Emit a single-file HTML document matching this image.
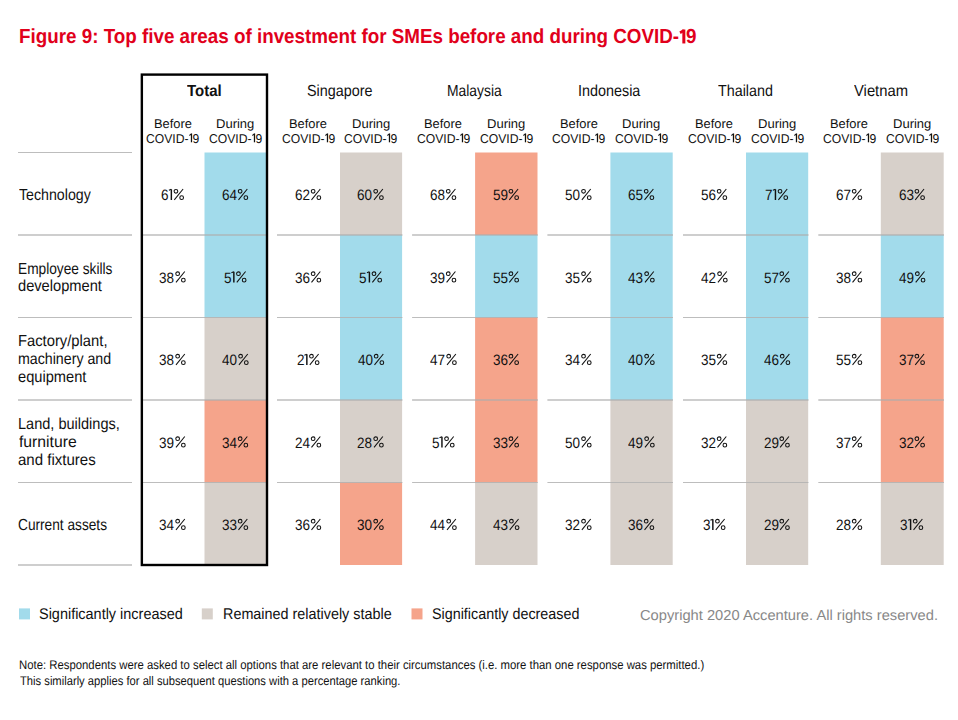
<!DOCTYPE html>
<html><head><meta charset="utf-8"><style>
html,body{margin:0;padding:0;background:#fff;}
body{width:958px;height:720px;position:relative;overflow:hidden;font-family:"Liberation Sans",sans-serif;text-rendering:geometricPrecision;}
.t{position:absolute;line-height:0;white-space:nowrap;transform-origin:0 0;}
svg.main{position:absolute;left:0;top:0;}
</style></head><body>
<svg class="main" width="958" height="720" viewBox="0 0 958 720" shape-rendering="geometricPrecision">
<rect x="204.50" y="152.50" width="62.00" height="82.50" fill="#a2dbeb"/>
<rect x="340.00" y="152.50" width="62.10" height="82.50" fill="#d7d0ca"/>
<rect x="475.10" y="152.50" width="62.40" height="82.50" fill="#f5a48b"/>
<rect x="610.40" y="152.50" width="62.30" height="82.50" fill="#a2dbeb"/>
<rect x="746.00" y="152.50" width="62.20" height="82.50" fill="#a2dbeb"/>
<rect x="880.80" y="152.50" width="62.90" height="82.50" fill="#d7d0ca"/>
<rect x="204.50" y="235.00" width="62.00" height="82.50" fill="#a2dbeb"/>
<rect x="340.00" y="235.00" width="62.10" height="82.50" fill="#a2dbeb"/>
<rect x="475.10" y="235.00" width="62.40" height="82.50" fill="#a2dbeb"/>
<rect x="610.40" y="235.00" width="62.30" height="82.50" fill="#a2dbeb"/>
<rect x="746.00" y="235.00" width="62.20" height="82.50" fill="#a2dbeb"/>
<rect x="880.80" y="235.00" width="62.90" height="82.50" fill="#a2dbeb"/>
<rect x="204.50" y="317.50" width="62.00" height="82.50" fill="#d7d0ca"/>
<rect x="340.00" y="317.50" width="62.10" height="82.50" fill="#a2dbeb"/>
<rect x="475.10" y="317.50" width="62.40" height="82.50" fill="#f5a48b"/>
<rect x="610.40" y="317.50" width="62.30" height="82.50" fill="#a2dbeb"/>
<rect x="746.00" y="317.50" width="62.20" height="82.50" fill="#a2dbeb"/>
<rect x="880.80" y="317.50" width="62.90" height="82.50" fill="#f5a48b"/>
<rect x="204.50" y="400.00" width="62.00" height="82.50" fill="#f5a48b"/>
<rect x="340.00" y="400.00" width="62.10" height="82.50" fill="#d7d0ca"/>
<rect x="475.10" y="400.00" width="62.40" height="82.50" fill="#f5a48b"/>
<rect x="610.40" y="400.00" width="62.30" height="82.50" fill="#d7d0ca"/>
<rect x="746.00" y="400.00" width="62.20" height="82.50" fill="#d7d0ca"/>
<rect x="880.80" y="400.00" width="62.90" height="82.50" fill="#f5a48b"/>
<rect x="204.50" y="482.50" width="62.00" height="82.50" fill="#d7d0ca"/>
<rect x="340.00" y="482.50" width="62.10" height="82.50" fill="#f5a48b"/>
<rect x="475.10" y="482.50" width="62.40" height="82.50" fill="#d7d0ca"/>
<rect x="610.40" y="482.50" width="62.30" height="82.50" fill="#d7d0ca"/>
<rect x="746.00" y="482.50" width="62.20" height="82.50" fill="#d7d0ca"/>
<rect x="880.80" y="482.50" width="62.90" height="82.50" fill="#d7d0ca"/>
<rect x="18.00" y="152" width="114.00" height="1" fill="#adadad" fill-opacity="0.8"/>
<rect x="18.00" y="234" width="114.00" height="2" fill="#adadad" fill-opacity="0.6"/>
<rect x="143.00" y="234" width="123.50" height="2" fill="#adadad" fill-opacity="0.6"/>
<rect x="277.00" y="234" width="125.40" height="2" fill="#adadad" fill-opacity="0.6"/>
<rect x="412.10" y="234" width="125.70" height="2" fill="#adadad" fill-opacity="0.6"/>
<rect x="547.40" y="234" width="125.60" height="2" fill="#adadad" fill-opacity="0.6"/>
<rect x="683.00" y="234" width="125.50" height="2" fill="#adadad" fill-opacity="0.6"/>
<rect x="818.30" y="234" width="125.70" height="2" fill="#adadad" fill-opacity="0.6"/>
<rect x="18.00" y="317" width="114.00" height="1" fill="#adadad" fill-opacity="0.8"/>
<rect x="143.00" y="317" width="123.50" height="1" fill="#adadad" fill-opacity="0.8"/>
<rect x="277.00" y="317" width="125.40" height="1" fill="#adadad" fill-opacity="0.8"/>
<rect x="412.10" y="317" width="125.70" height="1" fill="#adadad" fill-opacity="0.8"/>
<rect x="547.40" y="317" width="125.60" height="1" fill="#adadad" fill-opacity="0.8"/>
<rect x="683.00" y="317" width="125.50" height="1" fill="#adadad" fill-opacity="0.8"/>
<rect x="818.30" y="317" width="125.70" height="1" fill="#adadad" fill-opacity="0.8"/>
<rect x="18.00" y="399" width="114.00" height="2" fill="#adadad" fill-opacity="0.6"/>
<rect x="143.00" y="399" width="123.50" height="2" fill="#adadad" fill-opacity="0.6"/>
<rect x="277.00" y="399" width="125.40" height="2" fill="#adadad" fill-opacity="0.6"/>
<rect x="412.10" y="399" width="125.70" height="2" fill="#adadad" fill-opacity="0.6"/>
<rect x="547.40" y="399" width="125.60" height="2" fill="#adadad" fill-opacity="0.6"/>
<rect x="683.00" y="399" width="125.50" height="2" fill="#adadad" fill-opacity="0.6"/>
<rect x="818.30" y="399" width="125.70" height="2" fill="#adadad" fill-opacity="0.6"/>
<rect x="18.00" y="482" width="114.00" height="1" fill="#adadad" fill-opacity="0.8"/>
<rect x="143.00" y="482" width="123.50" height="1" fill="#adadad" fill-opacity="0.8"/>
<rect x="277.00" y="482" width="125.40" height="1" fill="#adadad" fill-opacity="0.8"/>
<rect x="412.10" y="482" width="125.70" height="1" fill="#adadad" fill-opacity="0.8"/>
<rect x="547.40" y="482" width="125.60" height="1" fill="#adadad" fill-opacity="0.8"/>
<rect x="683.00" y="482" width="125.50" height="1" fill="#adadad" fill-opacity="0.8"/>
<rect x="818.30" y="482" width="125.70" height="1" fill="#adadad" fill-opacity="0.8"/>
<rect x="18.00" y="564" width="114.00" height="2" fill="#adadad" fill-opacity="0.6"/>
<g transform="translate(173.40,188.80)" fill="none" stroke="#111" stroke-width="1.05"><circle cx="2.55" cy="2.45" r="1.85"/><circle cx="8.25" cy="8.85" r="1.85"/><path d="M9.7 0.2 L0.9 11.1"/></g>
<g transform="translate(237.60,188.80)" fill="none" stroke="#111" stroke-width="1.05"><circle cx="2.55" cy="2.45" r="1.85"/><circle cx="8.25" cy="8.85" r="1.85"/><path d="M9.7 0.2 L0.9 11.1"/></g>
<g transform="translate(310.60,188.80)" fill="none" stroke="#111" stroke-width="1.05"><circle cx="2.55" cy="2.45" r="1.85"/><circle cx="8.25" cy="8.85" r="1.85"/><path d="M9.7 0.2 L0.9 11.1"/></g>
<g transform="translate(373.15,188.80)" fill="none" stroke="#111" stroke-width="1.05"><circle cx="2.55" cy="2.45" r="1.85"/><circle cx="8.25" cy="8.85" r="1.85"/><path d="M9.7 0.2 L0.9 11.1"/></g>
<g transform="translate(445.70,188.80)" fill="none" stroke="#111" stroke-width="1.05"><circle cx="2.55" cy="2.45" r="1.85"/><circle cx="8.25" cy="8.85" r="1.85"/><path d="M9.7 0.2 L0.9 11.1"/></g>
<g transform="translate(508.40,188.80)" fill="none" stroke="#111" stroke-width="1.05"><circle cx="2.55" cy="2.45" r="1.85"/><circle cx="8.25" cy="8.85" r="1.85"/><path d="M9.7 0.2 L0.9 11.1"/></g>
<g transform="translate(581.00,188.80)" fill="none" stroke="#111" stroke-width="1.05"><circle cx="2.55" cy="2.45" r="1.85"/><circle cx="8.25" cy="8.85" r="1.85"/><path d="M9.7 0.2 L0.9 11.1"/></g>
<g transform="translate(643.65,188.80)" fill="none" stroke="#111" stroke-width="1.05"><circle cx="2.55" cy="2.45" r="1.85"/><circle cx="8.25" cy="8.85" r="1.85"/><path d="M9.7 0.2 L0.9 11.1"/></g>
<g transform="translate(716.60,188.80)" fill="none" stroke="#111" stroke-width="1.05"><circle cx="2.55" cy="2.45" r="1.85"/><circle cx="8.25" cy="8.85" r="1.85"/><path d="M9.7 0.2 L0.9 11.1"/></g>
<g transform="translate(777.50,188.80)" fill="none" stroke="#111" stroke-width="1.05"><circle cx="2.55" cy="2.45" r="1.85"/><circle cx="8.25" cy="8.85" r="1.85"/><path d="M9.7 0.2 L0.9 11.1"/></g>
<g transform="translate(851.65,188.80)" fill="none" stroke="#111" stroke-width="1.05"><circle cx="2.55" cy="2.45" r="1.85"/><circle cx="8.25" cy="8.85" r="1.85"/><path d="M9.7 0.2 L0.9 11.1"/></g>
<g transform="translate(914.35,188.80)" fill="none" stroke="#111" stroke-width="1.05"><circle cx="2.55" cy="2.45" r="1.85"/><circle cx="8.25" cy="8.85" r="1.85"/><path d="M9.7 0.2 L0.9 11.1"/></g>
<g transform="translate(175.10,271.30)" fill="none" stroke="#111" stroke-width="1.05"><circle cx="2.55" cy="2.45" r="1.85"/><circle cx="8.25" cy="8.85" r="1.85"/><path d="M9.7 0.2 L0.9 11.1"/></g>
<g transform="translate(235.90,271.30)" fill="none" stroke="#111" stroke-width="1.05"><circle cx="2.55" cy="2.45" r="1.85"/><circle cx="8.25" cy="8.85" r="1.85"/><path d="M9.7 0.2 L0.9 11.1"/></g>
<g transform="translate(310.60,271.30)" fill="none" stroke="#111" stroke-width="1.05"><circle cx="2.55" cy="2.45" r="1.85"/><circle cx="8.25" cy="8.85" r="1.85"/><path d="M9.7 0.2 L0.9 11.1"/></g>
<g transform="translate(371.45,271.30)" fill="none" stroke="#111" stroke-width="1.05"><circle cx="2.55" cy="2.45" r="1.85"/><circle cx="8.25" cy="8.85" r="1.85"/><path d="M9.7 0.2 L0.9 11.1"/></g>
<g transform="translate(445.70,271.30)" fill="none" stroke="#111" stroke-width="1.05"><circle cx="2.55" cy="2.45" r="1.85"/><circle cx="8.25" cy="8.85" r="1.85"/><path d="M9.7 0.2 L0.9 11.1"/></g>
<g transform="translate(508.40,271.30)" fill="none" stroke="#111" stroke-width="1.05"><circle cx="2.55" cy="2.45" r="1.85"/><circle cx="8.25" cy="8.85" r="1.85"/><path d="M9.7 0.2 L0.9 11.1"/></g>
<g transform="translate(581.00,271.30)" fill="none" stroke="#111" stroke-width="1.05"><circle cx="2.55" cy="2.45" r="1.85"/><circle cx="8.25" cy="8.85" r="1.85"/><path d="M9.7 0.2 L0.9 11.1"/></g>
<g transform="translate(644.10,271.30)" fill="none" stroke="#111" stroke-width="1.05"><circle cx="2.55" cy="2.45" r="1.85"/><circle cx="8.25" cy="8.85" r="1.85"/><path d="M9.7 0.2 L0.9 11.1"/></g>
<g transform="translate(717.05,271.30)" fill="none" stroke="#111" stroke-width="1.05"><circle cx="2.55" cy="2.45" r="1.85"/><circle cx="8.25" cy="8.85" r="1.85"/><path d="M9.7 0.2 L0.9 11.1"/></g>
<g transform="translate(779.20,271.30)" fill="none" stroke="#111" stroke-width="1.05"><circle cx="2.55" cy="2.45" r="1.85"/><circle cx="8.25" cy="8.85" r="1.85"/><path d="M9.7 0.2 L0.9 11.1"/></g>
<g transform="translate(851.65,271.30)" fill="none" stroke="#111" stroke-width="1.05"><circle cx="2.55" cy="2.45" r="1.85"/><circle cx="8.25" cy="8.85" r="1.85"/><path d="M9.7 0.2 L0.9 11.1"/></g>
<g transform="translate(914.80,271.30)" fill="none" stroke="#111" stroke-width="1.05"><circle cx="2.55" cy="2.45" r="1.85"/><circle cx="8.25" cy="8.85" r="1.85"/><path d="M9.7 0.2 L0.9 11.1"/></g>
<g transform="translate(175.10,353.80)" fill="none" stroke="#111" stroke-width="1.05"><circle cx="2.55" cy="2.45" r="1.85"/><circle cx="8.25" cy="8.85" r="1.85"/><path d="M9.7 0.2 L0.9 11.1"/></g>
<g transform="translate(238.05,353.80)" fill="none" stroke="#111" stroke-width="1.05"><circle cx="2.55" cy="2.45" r="1.85"/><circle cx="8.25" cy="8.85" r="1.85"/><path d="M9.7 0.2 L0.9 11.1"/></g>
<g transform="translate(308.90,353.80)" fill="none" stroke="#111" stroke-width="1.05"><circle cx="2.55" cy="2.45" r="1.85"/><circle cx="8.25" cy="8.85" r="1.85"/><path d="M9.7 0.2 L0.9 11.1"/></g>
<g transform="translate(373.60,353.80)" fill="none" stroke="#111" stroke-width="1.05"><circle cx="2.55" cy="2.45" r="1.85"/><circle cx="8.25" cy="8.85" r="1.85"/><path d="M9.7 0.2 L0.9 11.1"/></g>
<g transform="translate(446.15,353.80)" fill="none" stroke="#111" stroke-width="1.05"><circle cx="2.55" cy="2.45" r="1.85"/><circle cx="8.25" cy="8.85" r="1.85"/><path d="M9.7 0.2 L0.9 11.1"/></g>
<g transform="translate(508.40,353.80)" fill="none" stroke="#111" stroke-width="1.05"><circle cx="2.55" cy="2.45" r="1.85"/><circle cx="8.25" cy="8.85" r="1.85"/><path d="M9.7 0.2 L0.9 11.1"/></g>
<g transform="translate(581.00,353.80)" fill="none" stroke="#111" stroke-width="1.05"><circle cx="2.55" cy="2.45" r="1.85"/><circle cx="8.25" cy="8.85" r="1.85"/><path d="M9.7 0.2 L0.9 11.1"/></g>
<g transform="translate(644.10,353.80)" fill="none" stroke="#111" stroke-width="1.05"><circle cx="2.55" cy="2.45" r="1.85"/><circle cx="8.25" cy="8.85" r="1.85"/><path d="M9.7 0.2 L0.9 11.1"/></g>
<g transform="translate(716.60,353.80)" fill="none" stroke="#111" stroke-width="1.05"><circle cx="2.55" cy="2.45" r="1.85"/><circle cx="8.25" cy="8.85" r="1.85"/><path d="M9.7 0.2 L0.9 11.1"/></g>
<g transform="translate(779.65,353.80)" fill="none" stroke="#111" stroke-width="1.05"><circle cx="2.55" cy="2.45" r="1.85"/><circle cx="8.25" cy="8.85" r="1.85"/><path d="M9.7 0.2 L0.9 11.1"/></g>
<g transform="translate(851.65,353.80)" fill="none" stroke="#111" stroke-width="1.05"><circle cx="2.55" cy="2.45" r="1.85"/><circle cx="8.25" cy="8.85" r="1.85"/><path d="M9.7 0.2 L0.9 11.1"/></g>
<g transform="translate(914.35,353.80)" fill="none" stroke="#111" stroke-width="1.05"><circle cx="2.55" cy="2.45" r="1.85"/><circle cx="8.25" cy="8.85" r="1.85"/><path d="M9.7 0.2 L0.9 11.1"/></g>
<g transform="translate(175.10,436.30)" fill="none" stroke="#111" stroke-width="1.05"><circle cx="2.55" cy="2.45" r="1.85"/><circle cx="8.25" cy="8.85" r="1.85"/><path d="M9.7 0.2 L0.9 11.1"/></g>
<g transform="translate(237.60,436.30)" fill="none" stroke="#111" stroke-width="1.05"><circle cx="2.55" cy="2.45" r="1.85"/><circle cx="8.25" cy="8.85" r="1.85"/><path d="M9.7 0.2 L0.9 11.1"/></g>
<g transform="translate(310.60,436.30)" fill="none" stroke="#111" stroke-width="1.05"><circle cx="2.55" cy="2.45" r="1.85"/><circle cx="8.25" cy="8.85" r="1.85"/><path d="M9.7 0.2 L0.9 11.1"/></g>
<g transform="translate(373.15,436.30)" fill="none" stroke="#111" stroke-width="1.05"><circle cx="2.55" cy="2.45" r="1.85"/><circle cx="8.25" cy="8.85" r="1.85"/><path d="M9.7 0.2 L0.9 11.1"/></g>
<g transform="translate(444.00,436.30)" fill="none" stroke="#111" stroke-width="1.05"><circle cx="2.55" cy="2.45" r="1.85"/><circle cx="8.25" cy="8.85" r="1.85"/><path d="M9.7 0.2 L0.9 11.1"/></g>
<g transform="translate(508.40,436.30)" fill="none" stroke="#111" stroke-width="1.05"><circle cx="2.55" cy="2.45" r="1.85"/><circle cx="8.25" cy="8.85" r="1.85"/><path d="M9.7 0.2 L0.9 11.1"/></g>
<g transform="translate(581.00,436.30)" fill="none" stroke="#111" stroke-width="1.05"><circle cx="2.55" cy="2.45" r="1.85"/><circle cx="8.25" cy="8.85" r="1.85"/><path d="M9.7 0.2 L0.9 11.1"/></g>
<g transform="translate(644.10,436.30)" fill="none" stroke="#111" stroke-width="1.05"><circle cx="2.55" cy="2.45" r="1.85"/><circle cx="8.25" cy="8.85" r="1.85"/><path d="M9.7 0.2 L0.9 11.1"/></g>
<g transform="translate(716.60,436.30)" fill="none" stroke="#111" stroke-width="1.05"><circle cx="2.55" cy="2.45" r="1.85"/><circle cx="8.25" cy="8.85" r="1.85"/><path d="M9.7 0.2 L0.9 11.1"/></g>
<g transform="translate(779.20,436.30)" fill="none" stroke="#111" stroke-width="1.05"><circle cx="2.55" cy="2.45" r="1.85"/><circle cx="8.25" cy="8.85" r="1.85"/><path d="M9.7 0.2 L0.9 11.1"/></g>
<g transform="translate(851.65,436.30)" fill="none" stroke="#111" stroke-width="1.05"><circle cx="2.55" cy="2.45" r="1.85"/><circle cx="8.25" cy="8.85" r="1.85"/><path d="M9.7 0.2 L0.9 11.1"/></g>
<g transform="translate(914.35,436.30)" fill="none" stroke="#111" stroke-width="1.05"><circle cx="2.55" cy="2.45" r="1.85"/><circle cx="8.25" cy="8.85" r="1.85"/><path d="M9.7 0.2 L0.9 11.1"/></g>
<g transform="translate(175.10,518.80)" fill="none" stroke="#111" stroke-width="1.05"><circle cx="2.55" cy="2.45" r="1.85"/><circle cx="8.25" cy="8.85" r="1.85"/><path d="M9.7 0.2 L0.9 11.1"/></g>
<g transform="translate(237.60,518.80)" fill="none" stroke="#111" stroke-width="1.05"><circle cx="2.55" cy="2.45" r="1.85"/><circle cx="8.25" cy="8.85" r="1.85"/><path d="M9.7 0.2 L0.9 11.1"/></g>
<g transform="translate(310.60,518.80)" fill="none" stroke="#111" stroke-width="1.05"><circle cx="2.55" cy="2.45" r="1.85"/><circle cx="8.25" cy="8.85" r="1.85"/><path d="M9.7 0.2 L0.9 11.1"/></g>
<g transform="translate(373.15,518.80)" fill="none" stroke="#111" stroke-width="1.05"><circle cx="2.55" cy="2.45" r="1.85"/><circle cx="8.25" cy="8.85" r="1.85"/><path d="M9.7 0.2 L0.9 11.1"/></g>
<g transform="translate(446.15,518.80)" fill="none" stroke="#111" stroke-width="1.05"><circle cx="2.55" cy="2.45" r="1.85"/><circle cx="8.25" cy="8.85" r="1.85"/><path d="M9.7 0.2 L0.9 11.1"/></g>
<g transform="translate(508.85,518.80)" fill="none" stroke="#111" stroke-width="1.05"><circle cx="2.55" cy="2.45" r="1.85"/><circle cx="8.25" cy="8.85" r="1.85"/><path d="M9.7 0.2 L0.9 11.1"/></g>
<g transform="translate(581.00,518.80)" fill="none" stroke="#111" stroke-width="1.05"><circle cx="2.55" cy="2.45" r="1.85"/><circle cx="8.25" cy="8.85" r="1.85"/><path d="M9.7 0.2 L0.9 11.1"/></g>
<g transform="translate(643.65,518.80)" fill="none" stroke="#111" stroke-width="1.05"><circle cx="2.55" cy="2.45" r="1.85"/><circle cx="8.25" cy="8.85" r="1.85"/><path d="M9.7 0.2 L0.9 11.1"/></g>
<g transform="translate(714.90,518.80)" fill="none" stroke="#111" stroke-width="1.05"><circle cx="2.55" cy="2.45" r="1.85"/><circle cx="8.25" cy="8.85" r="1.85"/><path d="M9.7 0.2 L0.9 11.1"/></g>
<g transform="translate(779.20,518.80)" fill="none" stroke="#111" stroke-width="1.05"><circle cx="2.55" cy="2.45" r="1.85"/><circle cx="8.25" cy="8.85" r="1.85"/><path d="M9.7 0.2 L0.9 11.1"/></g>
<g transform="translate(851.65,518.80)" fill="none" stroke="#111" stroke-width="1.05"><circle cx="2.55" cy="2.45" r="1.85"/><circle cx="8.25" cy="8.85" r="1.85"/><path d="M9.7 0.2 L0.9 11.1"/></g>
<g transform="translate(912.65,518.80)" fill="none" stroke="#111" stroke-width="1.05"><circle cx="2.55" cy="2.45" r="1.85"/><circle cx="8.25" cy="8.85" r="1.85"/><path d="M9.7 0.2 L0.9 11.1"/></g>
<g transform="translate(168.80,189.00)" fill="none" stroke="#111" stroke-width="1.45"><path d="M2.55 0.3 V11" /><path d="M0.1 1.3 L2.5 0.25" stroke-width="1.1"/></g>
<g transform="translate(772.90,189.00)" fill="none" stroke="#111" stroke-width="1.45"><path d="M2.55 0.3 V11" /><path d="M0.1 1.3 L2.5 0.25" stroke-width="1.1"/></g>
<g transform="translate(231.30,271.50)" fill="none" stroke="#111" stroke-width="1.45"><path d="M2.55 0.3 V11" /><path d="M0.1 1.3 L2.5 0.25" stroke-width="1.1"/></g>
<g transform="translate(366.85,271.50)" fill="none" stroke="#111" stroke-width="1.45"><path d="M2.55 0.3 V11" /><path d="M0.1 1.3 L2.5 0.25" stroke-width="1.1"/></g>
<g transform="translate(304.30,354.00)" fill="none" stroke="#111" stroke-width="1.45"><path d="M2.55 0.3 V11" /><path d="M0.1 1.3 L2.5 0.25" stroke-width="1.1"/></g>
<g transform="translate(439.40,436.50)" fill="none" stroke="#111" stroke-width="1.45"><path d="M2.55 0.3 V11" /><path d="M0.1 1.3 L2.5 0.25" stroke-width="1.1"/></g>
<g transform="translate(710.30,519.00)" fill="none" stroke="#111" stroke-width="1.45"><path d="M2.55 0.3 V11" /><path d="M0.1 1.3 L2.5 0.25" stroke-width="1.1"/></g>
<g transform="translate(908.05,519.00)" fill="none" stroke="#111" stroke-width="1.45"><path d="M2.55 0.3 V11" /><path d="M0.1 1.3 L2.5 0.25" stroke-width="1.1"/></g>
<rect x="141.85" y="74.6" width="125.15" height="490.4" fill="none" stroke="#000" stroke-width="2.4"/>
<rect x="19" y="608.4" width="11" height="11" fill="#a2dbeb"/>
<rect x="201.8" y="608.4" width="11" height="11" fill="#d7d0ca"/>
<rect x="411.5" y="608.4" width="11" height="11" fill="#f5a48b"/>
</svg>
<div class="t" style="left:19.07px;top:37.00px;font-size:20.3px;color:#e1001b;font-weight:bold;transform:scaleX(0.9273);">Figure 9: Top five areas of investment for SMEs before and during COVID-<span style="display:inline-block;width:7.51px;height:0;position:relative"><svg width="7.51" height="14.97" viewBox="0 -14.47 7.51 14.97" style="position:absolute;left:0;bottom:-0.5px;overflow:visible"><g fill="none" stroke="#e1001b"><path d="M4.97 -13.97 V0" stroke-width="3.25"/><path d="M0.81 -10.72 L4.97 -12.99" stroke-width="2.76"/></g></svg></span>9</div>
<div class="t" style="left:187.15px;top:92.00px;font-size:16px;color:#111111;font-weight:bold;transform:scaleX(0.9361);">Total</div>
<div class="t" style="left:153.89px;top:124.00px;font-size:12.8px;color:#111111;transform:scaleX(1.0056);">Before</div>
<div class="t" style="left:146.40px;top:138.50px;font-size:12.8px;color:#111111;transform:scaleX(0.9500);">COVID-<span style="display:inline-block;width:4.22px;height:0;position:relative"><svg width="4.22" height="9.81" viewBox="0 -9.31 4.22 9.81" style="position:absolute;left:0;bottom:-0.5px;overflow:visible"><g fill="none" stroke="#111111"><path d="M2.88 -8.81 V0" stroke-width="1.34"/><path d="M0.64 -6.76 L2.88 -8.40" stroke-width="1.14"/></g></svg></span>9</div>
<div class="t" style="left:216.18px;top:124.00px;font-size:12.8px;color:#111111;transform:scaleX(1.0167);">During</div>
<div class="t" style="left:208.90px;top:138.50px;font-size:12.8px;color:#111111;transform:scaleX(0.9500);">COVID-<span style="display:inline-block;width:4.22px;height:0;position:relative"><svg width="4.22" height="9.81" viewBox="0 -9.31 4.22 9.81" style="position:absolute;left:0;bottom:-0.5px;overflow:visible"><g fill="none" stroke="#111111"><path d="M2.88 -8.81 V0" stroke-width="1.34"/><path d="M0.64 -6.76 L2.88 -8.40" stroke-width="1.14"/></g></svg></span>9</div>
<div class="t" style="left:306.80px;top:92.00px;font-size:16px;color:#111111;transform:scaleX(0.8972);">Singapore</div>
<div class="t" style="left:289.39px;top:124.00px;font-size:12.8px;color:#111111;transform:scaleX(1.0056);">Before</div>
<div class="t" style="left:281.90px;top:138.50px;font-size:12.8px;color:#111111;transform:scaleX(0.9500);">COVID-<span style="display:inline-block;width:4.22px;height:0;position:relative"><svg width="4.22" height="9.81" viewBox="0 -9.31 4.22 9.81" style="position:absolute;left:0;bottom:-0.5px;overflow:visible"><g fill="none" stroke="#111111"><path d="M2.88 -8.81 V0" stroke-width="1.34"/><path d="M0.64 -6.76 L2.88 -8.40" stroke-width="1.14"/></g></svg></span>9</div>
<div class="t" style="left:351.73px;top:124.00px;font-size:12.8px;color:#111111;transform:scaleX(1.0167);">During</div>
<div class="t" style="left:344.45px;top:138.50px;font-size:12.8px;color:#111111;transform:scaleX(0.9500);">COVID-<span style="display:inline-block;width:4.22px;height:0;position:relative"><svg width="4.22" height="9.81" viewBox="0 -9.31 4.22 9.81" style="position:absolute;left:0;bottom:-0.5px;overflow:visible"><g fill="none" stroke="#111111"><path d="M2.88 -8.81 V0" stroke-width="1.34"/><path d="M0.64 -6.76 L2.88 -8.40" stroke-width="1.14"/></g></svg></span>9</div>
<div class="t" style="left:447.03px;top:92.00px;font-size:16px;color:#111111;transform:scaleX(0.8677);">Malaysia</div>
<div class="t" style="left:424.49px;top:124.00px;font-size:12.8px;color:#111111;transform:scaleX(1.0056);">Before</div>
<div class="t" style="left:417.00px;top:138.50px;font-size:12.8px;color:#111111;transform:scaleX(0.9500);">COVID-<span style="display:inline-block;width:4.22px;height:0;position:relative"><svg width="4.22" height="9.81" viewBox="0 -9.31 4.22 9.81" style="position:absolute;left:0;bottom:-0.5px;overflow:visible"><g fill="none" stroke="#111111"><path d="M2.88 -8.81 V0" stroke-width="1.34"/><path d="M0.64 -6.76 L2.88 -8.40" stroke-width="1.14"/></g></svg></span>9</div>
<div class="t" style="left:486.98px;top:124.00px;font-size:12.8px;color:#111111;transform:scaleX(1.0167);">During</div>
<div class="t" style="left:479.70px;top:138.50px;font-size:12.8px;color:#111111;transform:scaleX(0.9500);">COVID-<span style="display:inline-block;width:4.22px;height:0;position:relative"><svg width="4.22" height="9.81" viewBox="0 -9.31 4.22 9.81" style="position:absolute;left:0;bottom:-0.5px;overflow:visible"><g fill="none" stroke="#111111"><path d="M2.88 -8.81 V0" stroke-width="1.34"/><path d="M0.64 -6.76 L2.88 -8.40" stroke-width="1.14"/></g></svg></span>9</div>
<div class="t" style="left:578.15px;top:92.00px;font-size:16px;color:#111111;transform:scaleX(0.8986);">Indonesia</div>
<div class="t" style="left:559.79px;top:124.00px;font-size:12.8px;color:#111111;transform:scaleX(1.0056);">Before</div>
<div class="t" style="left:552.30px;top:138.50px;font-size:12.8px;color:#111111;transform:scaleX(0.9500);">COVID-<span style="display:inline-block;width:4.22px;height:0;position:relative"><svg width="4.22" height="9.81" viewBox="0 -9.31 4.22 9.81" style="position:absolute;left:0;bottom:-0.5px;overflow:visible"><g fill="none" stroke="#111111"><path d="M2.88 -8.81 V0" stroke-width="1.34"/><path d="M0.64 -6.76 L2.88 -8.40" stroke-width="1.14"/></g></svg></span>9</div>
<div class="t" style="left:622.23px;top:124.00px;font-size:12.8px;color:#111111;transform:scaleX(1.0167);">During</div>
<div class="t" style="left:614.95px;top:138.50px;font-size:12.8px;color:#111111;transform:scaleX(0.9500);">COVID-<span style="display:inline-block;width:4.22px;height:0;position:relative"><svg width="4.22" height="9.81" viewBox="0 -9.31 4.22 9.81" style="position:absolute;left:0;bottom:-0.5px;overflow:visible"><g fill="none" stroke="#111111"><path d="M2.88 -8.81 V0" stroke-width="1.34"/><path d="M0.64 -6.76 L2.88 -8.40" stroke-width="1.14"/></g></svg></span>9</div>
<div class="t" style="left:718.30px;top:92.00px;font-size:16px;color:#111111;transform:scaleX(0.8951);">Thailand</div>
<div class="t" style="left:695.39px;top:124.00px;font-size:12.8px;color:#111111;transform:scaleX(1.0056);">Before</div>
<div class="t" style="left:687.90px;top:138.50px;font-size:12.8px;color:#111111;transform:scaleX(0.9500);">COVID-<span style="display:inline-block;width:4.22px;height:0;position:relative"><svg width="4.22" height="9.81" viewBox="0 -9.31 4.22 9.81" style="position:absolute;left:0;bottom:-0.5px;overflow:visible"><g fill="none" stroke="#111111"><path d="M2.88 -8.81 V0" stroke-width="1.34"/><path d="M0.64 -6.76 L2.88 -8.40" stroke-width="1.14"/></g></svg></span>9</div>
<div class="t" style="left:757.78px;top:124.00px;font-size:12.8px;color:#111111;transform:scaleX(1.0167);">During</div>
<div class="t" style="left:750.50px;top:138.50px;font-size:12.8px;color:#111111;transform:scaleX(0.9500);">COVID-<span style="display:inline-block;width:4.22px;height:0;position:relative"><svg width="4.22" height="9.81" viewBox="0 -9.31 4.22 9.81" style="position:absolute;left:0;bottom:-0.5px;overflow:visible"><g fill="none" stroke="#111111"><path d="M2.88 -8.81 V0" stroke-width="1.34"/><path d="M0.64 -6.76 L2.88 -8.40" stroke-width="1.14"/></g></svg></span>9</div>
<div class="t" style="left:854.20px;top:92.00px;font-size:16px;color:#111111;transform:scaleX(0.9241);">Vietnam</div>
<div class="t" style="left:830.44px;top:124.00px;font-size:12.8px;color:#111111;transform:scaleX(1.0056);">Before</div>
<div class="t" style="left:822.95px;top:138.50px;font-size:12.8px;color:#111111;transform:scaleX(0.9500);">COVID-<span style="display:inline-block;width:4.22px;height:0;position:relative"><svg width="4.22" height="9.81" viewBox="0 -9.31 4.22 9.81" style="position:absolute;left:0;bottom:-0.5px;overflow:visible"><g fill="none" stroke="#111111"><path d="M2.88 -8.81 V0" stroke-width="1.34"/><path d="M0.64 -6.76 L2.88 -8.40" stroke-width="1.14"/></g></svg></span>9</div>
<div class="t" style="left:892.93px;top:124.00px;font-size:12.8px;color:#111111;transform:scaleX(1.0167);">During</div>
<div class="t" style="left:885.65px;top:138.50px;font-size:12.8px;color:#111111;transform:scaleX(0.9500);">COVID-<span style="display:inline-block;width:4.22px;height:0;position:relative"><svg width="4.22" height="9.81" viewBox="0 -9.31 4.22 9.81" style="position:absolute;left:0;bottom:-0.5px;overflow:visible"><g fill="none" stroke="#111111"><path d="M2.88 -8.81 V0" stroke-width="1.34"/><path d="M0.64 -6.76 L2.88 -8.40" stroke-width="1.14"/></g></svg></span>9</div>
<div class="t" style="left:19.00px;top:196.00px;font-size:16px;color:#111111;transform:scaleX(0.8864);">Technology</div>
<div class="t" style="left:161.10px;top:196.00px;font-size:15px;color:#111111;transform:scaleX(0.9000);">6</div>
<div class="t" style="left:221.90px;top:196.00px;font-size:15px;color:#111111;transform:scaleX(0.9000);">64</div>
<div class="t" style="left:294.90px;top:196.00px;font-size:15px;color:#111111;transform:scaleX(0.9000);">62</div>
<div class="t" style="left:357.45px;top:196.00px;font-size:15px;color:#111111;transform:scaleX(0.9000);">60</div>
<div class="t" style="left:430.00px;top:196.00px;font-size:15px;color:#111111;transform:scaleX(0.9000);">68</div>
<div class="t" style="left:492.70px;top:196.00px;font-size:15px;color:#111111;transform:scaleX(0.9000);">59</div>
<div class="t" style="left:565.30px;top:196.00px;font-size:15px;color:#111111;transform:scaleX(0.9000);">50</div>
<div class="t" style="left:627.95px;top:196.00px;font-size:15px;color:#111111;transform:scaleX(0.9000);">65</div>
<div class="t" style="left:700.90px;top:196.00px;font-size:15px;color:#111111;transform:scaleX(0.9000);">56</div>
<div class="t" style="left:765.20px;top:196.00px;font-size:15px;color:#111111;transform:scaleX(0.9000);">7</div>
<div class="t" style="left:835.95px;top:196.00px;font-size:15px;color:#111111;transform:scaleX(0.9000);">67</div>
<div class="t" style="left:898.65px;top:196.00px;font-size:15px;color:#111111;transform:scaleX(0.9000);">63</div>
<div class="t" style="left:18.14px;top:270.00px;font-size:16px;color:#111111;transform:scaleX(0.8560);">Employee skills</div>
<div class="t" style="left:18.08px;top:287.00px;font-size:16px;color:#111111;transform:scaleX(0.9154);">development</div>
<div class="t" style="left:159.40px;top:278.50px;font-size:15px;color:#111111;transform:scaleX(0.9000);">38</div>
<div class="t" style="left:223.60px;top:278.50px;font-size:15px;color:#111111;transform:scaleX(0.9000);">5</div>
<div class="t" style="left:294.90px;top:278.50px;font-size:15px;color:#111111;transform:scaleX(0.9000);">36</div>
<div class="t" style="left:359.15px;top:278.50px;font-size:15px;color:#111111;transform:scaleX(0.9000);">5</div>
<div class="t" style="left:430.00px;top:278.50px;font-size:15px;color:#111111;transform:scaleX(0.9000);">39</div>
<div class="t" style="left:492.70px;top:278.50px;font-size:15px;color:#111111;transform:scaleX(0.9000);">55</div>
<div class="t" style="left:565.30px;top:278.50px;font-size:15px;color:#111111;transform:scaleX(0.9000);">35</div>
<div class="t" style="left:628.40px;top:278.50px;font-size:15px;color:#111111;transform:scaleX(0.9000);">43</div>
<div class="t" style="left:701.35px;top:278.50px;font-size:15px;color:#111111;transform:scaleX(0.9000);">42</div>
<div class="t" style="left:763.50px;top:278.50px;font-size:15px;color:#111111;transform:scaleX(0.9000);">57</div>
<div class="t" style="left:835.95px;top:278.50px;font-size:15px;color:#111111;transform:scaleX(0.9000);">38</div>
<div class="t" style="left:899.10px;top:278.50px;font-size:15px;color:#111111;transform:scaleX(0.9000);">49</div>
<div class="t" style="left:18.08px;top:342.00px;font-size:16px;color:#111111;transform:scaleX(0.9232);">Factory/plant,</div>
<div class="t" style="left:18.11px;top:360.00px;font-size:16px;color:#111111;transform:scaleX(0.8874);">machinery and</div>
<div class="t" style="left:18.09px;top:378.00px;font-size:16px;color:#111111;transform:scaleX(0.9149);">equipment</div>
<div class="t" style="left:159.40px;top:361.00px;font-size:15px;color:#111111;transform:scaleX(0.9000);">38</div>
<div class="t" style="left:222.35px;top:361.00px;font-size:15px;color:#111111;transform:scaleX(0.9000);">40</div>
<div class="t" style="left:296.60px;top:361.00px;font-size:15px;color:#111111;transform:scaleX(0.9000);">2</div>
<div class="t" style="left:357.90px;top:361.00px;font-size:15px;color:#111111;transform:scaleX(0.9000);">40</div>
<div class="t" style="left:430.45px;top:361.00px;font-size:15px;color:#111111;transform:scaleX(0.9000);">47</div>
<div class="t" style="left:492.70px;top:361.00px;font-size:15px;color:#111111;transform:scaleX(0.9000);">36</div>
<div class="t" style="left:565.30px;top:361.00px;font-size:15px;color:#111111;transform:scaleX(0.9000);">34</div>
<div class="t" style="left:628.40px;top:361.00px;font-size:15px;color:#111111;transform:scaleX(0.9000);">40</div>
<div class="t" style="left:700.90px;top:361.00px;font-size:15px;color:#111111;transform:scaleX(0.9000);">35</div>
<div class="t" style="left:763.95px;top:361.00px;font-size:15px;color:#111111;transform:scaleX(0.9000);">46</div>
<div class="t" style="left:835.95px;top:361.00px;font-size:15px;color:#111111;transform:scaleX(0.9000);">55</div>
<div class="t" style="left:898.65px;top:361.00px;font-size:15px;color:#111111;transform:scaleX(0.9000);">37</div>
<div class="t" style="left:18.09px;top:425.00px;font-size:16px;color:#111111;transform:scaleX(0.9082);">Land, buildings,</div>
<div class="t" style="left:19.00px;top:443.00px;font-size:16px;color:#111111;transform:scaleX(0.9828);">furniture</div>
<div class="t" style="left:18.06px;top:461.00px;font-size:16px;color:#111111;transform:scaleX(0.9395);">and fixtures</div>
<div class="t" style="left:159.40px;top:443.50px;font-size:15px;color:#111111;transform:scaleX(0.9000);">39</div>
<div class="t" style="left:221.90px;top:443.50px;font-size:15px;color:#111111;transform:scaleX(0.9000);">34</div>
<div class="t" style="left:294.90px;top:443.50px;font-size:15px;color:#111111;transform:scaleX(0.9000);">24</div>
<div class="t" style="left:357.45px;top:443.50px;font-size:15px;color:#111111;transform:scaleX(0.9000);">28</div>
<div class="t" style="left:431.70px;top:443.50px;font-size:15px;color:#111111;transform:scaleX(0.9000);">5</div>
<div class="t" style="left:492.70px;top:443.50px;font-size:15px;color:#111111;transform:scaleX(0.9000);">33</div>
<div class="t" style="left:565.30px;top:443.50px;font-size:15px;color:#111111;transform:scaleX(0.9000);">50</div>
<div class="t" style="left:628.40px;top:443.50px;font-size:15px;color:#111111;transform:scaleX(0.9000);">49</div>
<div class="t" style="left:700.90px;top:443.50px;font-size:15px;color:#111111;transform:scaleX(0.9000);">32</div>
<div class="t" style="left:763.50px;top:443.50px;font-size:15px;color:#111111;transform:scaleX(0.9000);">29</div>
<div class="t" style="left:835.95px;top:443.50px;font-size:15px;color:#111111;transform:scaleX(0.9000);">37</div>
<div class="t" style="left:898.65px;top:443.50px;font-size:15px;color:#111111;transform:scaleX(0.9000);">32</div>
<div class="t" style="left:18.14px;top:526.00px;font-size:16px;color:#111111;transform:scaleX(0.8553);">Current assets</div>
<div class="t" style="left:159.40px;top:526.00px;font-size:15px;color:#111111;transform:scaleX(0.9000);">34</div>
<div class="t" style="left:221.90px;top:526.00px;font-size:15px;color:#111111;transform:scaleX(0.9000);">33</div>
<div class="t" style="left:294.90px;top:526.00px;font-size:15px;color:#111111;transform:scaleX(0.9000);">36</div>
<div class="t" style="left:357.45px;top:526.00px;font-size:15px;color:#111111;transform:scaleX(0.9000);">30</div>
<div class="t" style="left:430.45px;top:526.00px;font-size:15px;color:#111111;transform:scaleX(0.9000);">44</div>
<div class="t" style="left:493.15px;top:526.00px;font-size:15px;color:#111111;transform:scaleX(0.9000);">43</div>
<div class="t" style="left:565.30px;top:526.00px;font-size:15px;color:#111111;transform:scaleX(0.9000);">32</div>
<div class="t" style="left:627.95px;top:526.00px;font-size:15px;color:#111111;transform:scaleX(0.9000);">36</div>
<div class="t" style="left:702.60px;top:526.00px;font-size:15px;color:#111111;transform:scaleX(0.9000);">3</div>
<div class="t" style="left:763.50px;top:526.00px;font-size:15px;color:#111111;transform:scaleX(0.9000);">29</div>
<div class="t" style="left:835.95px;top:526.00px;font-size:15px;color:#111111;transform:scaleX(0.9000);">28</div>
<div class="t" style="left:900.35px;top:526.00px;font-size:15px;color:#111111;transform:scaleX(0.9000);">3</div>
<div class="t" style="left:39.07px;top:615.00px;font-size:15.5px;color:#111111;transform:scaleX(0.9322);">Significantly increased</div>
<div class="t" style="left:222.57px;top:615.00px;font-size:15.5px;color:#111111;transform:scaleX(0.9278);">Remained relatively stable</div>
<div class="t" style="left:432.08px;top:615.00px;font-size:15.5px;color:#111111;transform:scaleX(0.9247);">Significantly decreased</div>
<div class="t" style="left:639.79px;top:616.00px;font-size:14.5px;color:#888888;transform:scaleX(1.0130);">Copyright 2020 Accenture. All rights reserved.</div>
<div class="t" style="left:18.89px;top:665.00px;font-size:12.5px;color:#111111;transform:scaleX(0.9072);">Note: Respondents were asked to select all options that are relevant to their circumstances (i.e. more than one response was permitted.)</div>
<div class="t" style="left:19.80px;top:680.50px;font-size:12.5px;color:#111111;transform:scaleX(0.8962);">This similarly applies for all subsequent questions with a percentage ranking.</div>
</body></html>
